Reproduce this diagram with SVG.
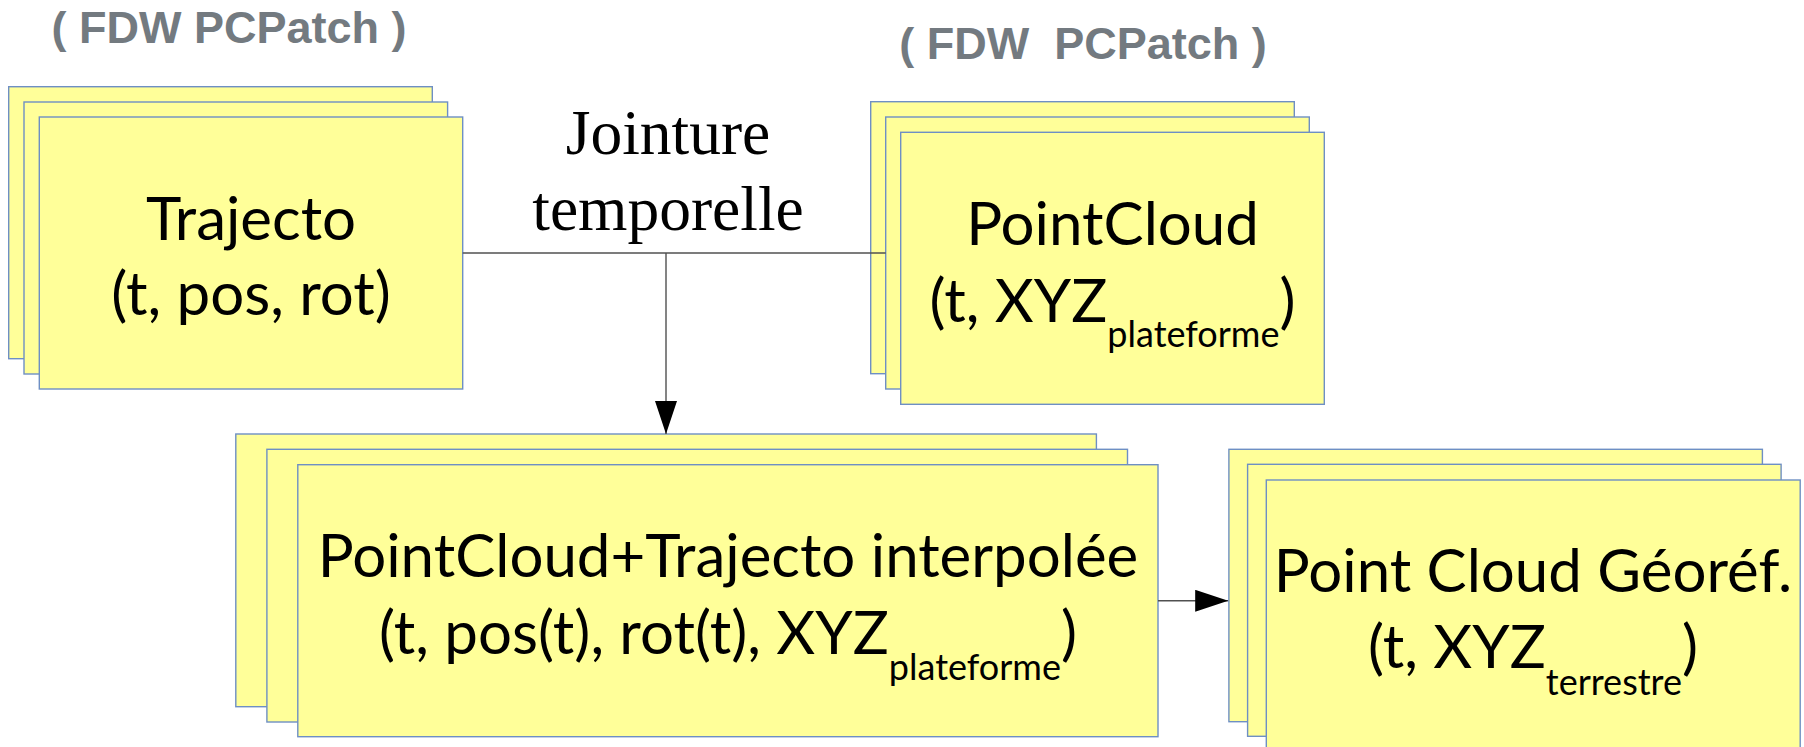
<svg xmlns="http://www.w3.org/2000/svg" width="1804" height="747" viewBox="0 0 1804 747">
  <style>
    .box { fill: #ffff99; stroke: #6e8fc4; stroke-width: 1.4; }
    .lbl { font-family: Lato, "Liberation Sans", sans-serif; font-size: 60px; fill: #000; text-anchor: middle; }
    .sub { font-size: 36px; }
    .src { font-family: "Liberation Sans", Arial, sans-serif; font-weight: bold; font-size: 45px; fill: #737a80; text-anchor: middle; white-space: pre; }
    .join { font-family: "Liberation Serif", "Times New Roman", serif; font-size: 63.5px; fill: #000; text-anchor: middle; }
    .wire { fill: none; stroke: #505050; stroke-width: 1.4; }
  </style>
  <defs>
    <marker id="head" markerUnits="userSpaceOnUse" markerWidth="34" markerHeight="22" refX="33" refY="11" orient="auto">
      <path d="M0,0 L33,11 L0,22 Z" fill="#000"/>
    </marker>
  </defs>

  <rect width="1804" height="747" fill="#fff"/>

  <!-- source annotations -->
  <text class="src" x="229" y="43">( FDW PCPatch )</text>
  <text class="src" x="1083" y="59">( FDW  PCPatch )</text>

  <!-- trajectory input -->
  <g id="trajecto">
    <rect class="box" x="8.7" y="86.7" width="423.6" height="272"/>
    <rect class="box" x="24" y="102" width="423.6" height="272"/>
    <rect class="box" x="39.3" y="117" width="423.4" height="272"/>
    <text class="lbl" x="251" y="240">Trajecto</text>
    <text class="lbl" x="251" y="315">(t, pos, rot)</text>
  </g>

  <!-- point cloud input -->
  <g id="pointcloud">
    <rect class="box" x="870.7" y="101.7" width="423.6" height="272"/>
    <rect class="box" x="885.7" y="117" width="423.6" height="272"/>
    <rect class="box" x="900.7" y="132.3" width="423.6" height="272"/>
    <text class="lbl" x="1112.5" y="245">PointCloud</text>
    <text class="lbl" x="1112.5" y="321.7">(t, XYZ<tspan class="sub" dy="25">plateforme</tspan><tspan dy="-25">)</tspan></text>
  </g>

  <!-- join label -->
  <g id="jointure">
    <text class="join" x="668" y="154">Jointure</text>
    <text class="join" x="668" y="230">temporelle</text>
  </g>

  <!-- interpolated point cloud -->
  <g id="interpolee">
    <rect class="box" x="235.8" y="434" width="860.6" height="272.7"/>
    <rect class="box" x="266.9" y="449.3" width="860.6" height="272.7"/>
    <rect class="box" x="297.8" y="464.7" width="860.2" height="272"/>
    <text class="lbl" x="728" y="576.7">PointCloud+Trajecto interpolée</text>
    <text class="lbl" x="728" y="654">(t, pos(t), rot(t), XYZ<tspan class="sub" dy="26">plateforme</tspan><tspan dy="-26">)</tspan></text>
  </g>

  <!-- georeferenced point cloud -->
  <g id="georef">
    <rect class="box" x="1228.9" y="449.3" width="533.5" height="272.4"/>
    <rect class="box" x="1247.6" y="464.3" width="533.5" height="272"/>
    <rect class="box" x="1266.3" y="480" width="533.9" height="272"/>
    <text class="lbl" x="1533" y="591.7">Point Cloud Géoréf.</text>
    <text class="lbl" x="1533" y="668.3">(t, XYZ<tspan class="sub" dy="27">terrestre</tspan><tspan dy="-27">)</tspan></text>
  </g>

  <!-- connectors -->
  <g id="connectors">
    <path class="wire" d="M462.7,253 H885.7"/>
    <path class="wire" d="M666,253 V434" marker-end="url(#head)"/>
    <path class="wire" d="M1158,600.8 H1228.2" marker-end="url(#head)"/>
  </g>
</svg>
